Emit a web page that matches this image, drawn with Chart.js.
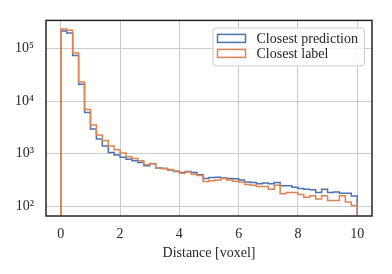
<!DOCTYPE html>
<html>
<head>
<meta charset="utf-8">
<script src="https://cdn.jsdelivr.net/npm/chart.js@4.4.1/dist/chart.umd.min.js"></script>
<style>
  html, body { margin: 0; padding: 0; background: #fff; }
  #wrap { width: 392px; height: 274px; }
</style>
</head>
<body>
<div id="wrap"><canvas id="histo" width="392" height="274"></canvas></div>
<script>
// --- DONNEES ---
const binEdges = [0, 0.2, 0.4, 0.6, 0.8, 1, 1.2, 1.4, 1.6, 1.8, 2, 2.2, 2.4, 2.6, 2.8, 3, 3.2, 3.4, 3.6, 3.8,
  4, 4.2, 4.4, 4.6, 4.8, 5, 5.2, 5.4, 5.6, 5.8, 6, 6.2, 6.4, 6.6, 6.8, 7, 7.2, 7.4, 7.6, 7.8,
  8, 8.2, 8.4, 8.6, 8.8, 9, 9.2, 9.4, 9.6, 9.8, 10];

const closestPrediction = [216000, 198000, 74000, 21000, 6100, 2950, 1900, 1400, 1050, 940,
  855, 780, 735, 675, 585, 640, 535, 520, 490, 458,
  437, 458, 437, 395, 335, 350, 354, 345, 335, 332,
  316, 290, 282, 266, 275, 266, 282, 245, 245, 230,
  217, 211, 205, 183, 211, 183, 187, 177, 177, 157];

const closestLabel = [235000, 223000, 82000, 23000, 6900, 3500, 2270, 1780, 1400, 1180,
  1030, 875, 810, 730, 615, 650, 535, 520, 500, 465,
  425, 445, 405, 385, 295, 305, 316, 335, 316, 298,
  290, 258, 250, 237, 237, 211, 250, 172, 183, 183,
  166, 148, 158, 137, 158, 128, 128, 158, 120, 103];

const seriesLabels = ['Closest prediction', 'Closest label'];
const xTickValues = [0, 2, 4, 6, 8, 10];
const yTickValues = [1e2, 1e3, 1e4, 1e5];
const xTitle = 'Distance [voxel]';

// --- STYLE ---
const FONT = "'Liberation Serif', 'DejaVu Serif', serif";
const TXT = '#262626';
const GRID = '#cccccc';
const BLUE = '#4c72b0';
const ORANGE = '#dd8452';
const FLOOR = 1; // base de l'histogramme (sous l'axe, donc coupee)

const SUP = { '0': '\u2070', '1': '\u00b9', '2': '\u00b2', '3': '\u00b3', '4': '\u2074', '5': '\u2075', '6': '\u2076', '7': '\u2077', '8': '\u2078', '9': '\u2079' };
function powLabel(v) {
  const e = String(Math.round(Math.log10(v)));
  return '10' + e.split('').map(c => SUP[c]).join('');
}

// histogramme "step" : contour complet, de la base a la base
function stepPoints(counts) {
  const last = binEdges[binEdges.length - 1];
  const pts = [{ x: binEdges[0], y: FLOOR }];
  counts.forEach((c, i) => pts.push({ x: binEdges[i], y: c }));
  pts.push({ x: last, y: counts[counts.length - 1] });
  pts.push({ x: last, y: FLOOR });
  return pts;
}

// cadre noir autour de la zone du graphe
const framePlugin = {
  id: 'frame',
  afterDatasetsDraw(chart) {
    const { ctx, chartArea: a } = chart;
    ctx.save();
    ctx.strokeStyle = TXT;
    ctx.lineWidth = 1.5;
    ctx.strokeRect(a.left, a.top, a.right - a.left, a.bottom - a.top);
    ctx.restore();
  }
};

// legende encadree en haut a droite
const boxLegend = {
  id: 'boxLegend',
  afterDraw(chart) {
    const { ctx, chartArea: a } = chart;
    const sets = chart.data.datasets;
    ctx.save();
    ctx.font = '14px ' + FONT;
    const textW = Math.max(...sets.map(d => ctx.measureText(d.label).width));
    const w = 44 + textW + 6, h = 38;
    const x = a.right - 8 - w, y = a.top + 7;
    ctx.beginPath();
    ctx.roundRect(x + 0.5, y + 0.5, w, h, 3);
    ctx.fillStyle = 'rgba(255,255,255,0.8)';
    ctx.fill();
    ctx.strokeStyle = GRID;
    ctx.lineWidth = 1;
    ctx.stroke();
    sets.forEach((d, i) => {
      const cy = y + 11 + i * 15;
      ctx.strokeStyle = d.borderColor;
      ctx.lineWidth = 1.5;
      ctx.strokeRect(x + 5, cy - 4, 28, 8);
      ctx.fillStyle = TXT;
      ctx.textBaseline = 'middle';
      ctx.fillText(d.label, x + 44, cy + 1);
    });
    ctx.restore();
  }
};

new Chart(document.getElementById('histo'), {
  type: 'line',
  data: {
    datasets: [
      { label: seriesLabels[0], data: stepPoints(closestPrediction), borderColor: BLUE, order: 2 },
      { label: seriesLabels[1], data: stepPoints(closestLabel), borderColor: ORANGE, order: 1 }
    ].map(d => Object.assign(d, { stepped: 'before', borderWidth: 1.5, pointRadius: 0, fill: false }))
  },
  options: {
    responsive: false,
    animation: false,
    devicePixelRatio: 1,
    layout: { padding: { top: 20, right: 20, left: 0, bottom: 0 } },
    plugins: { legend: { display: false }, tooltip: { enabled: false } },
    scales: {
      x: {
        type: 'linear', min: -0.5, max: 10.5,
        afterBuildTicks: s => { s.ticks = xTickValues.map(v => ({ value: v })); },
        afterFit: s => { s.height = 58; },
        grid: { color: GRID, lineWidth: 1, drawTicks: false },
        border: { display: false },
        ticks: { color: TXT, font: { family: FONT, size: 14 }, padding: 10, maxRotation: 0 },
        title: { display: true, text: xTitle, color: TXT, font: { family: FONT, size: 14 }, padding: { top: 0, bottom: 12 } }
      },
      y: {
        type: 'logarithmic', min: 65, max: 344000,
        afterBuildTicks: s => { s.ticks = yTickValues.map(v => ({ value: v })); },
        afterFit: s => { s.width = 46; },
        grid: { color: GRID, lineWidth: 1, drawTicks: false },
        border: { display: false },
        ticks: { color: TXT, font: { family: FONT, size: 14 }, padding: 12, callback: v => powLabel(v) }
      }
    }
  },
  plugins: [framePlugin, boxLegend]
});
</script>
</body>
</html>
